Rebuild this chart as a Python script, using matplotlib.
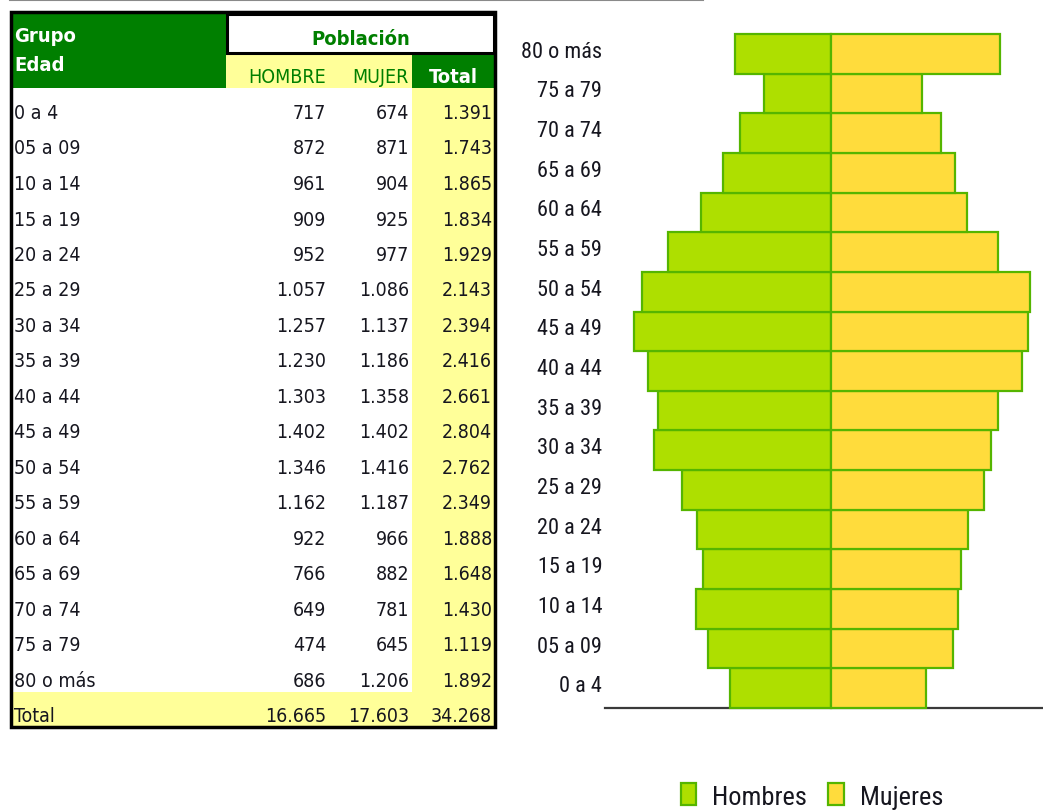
import matplotlib
matplotlib.use('Agg')
import matplotlib.pyplot as plt
from matplotlib.patches import Rectangle, Patch
from matplotlib import font_manager as fm
from matplotlib.transforms import ScaledTranslation

# ---------------- data ----------------
groups = ['0 a 4', '05 a 09', '10 a 14', '15 a 19', '20 a 24', '25 a 29',
          '30 a 34', '35 a 39', '40 a 44', '45 a 49', '50 a 54', '55 a 59',
          '60 a 64', '65 a 69', '70 a 74', '75 a 79', '80 o más']
hombres = [717, 872, 961, 909, 952, 1057, 1257, 1230, 1303, 1402, 1346, 1162,
           922, 766, 649, 474, 686]
mujeres = [674, 871, 904, 925, 977, 1086, 1137, 1186, 1358, 1402, 1416, 1187,
           966, 882, 781, 645, 1206]
totales = [1391, 1743, 1865, 1834, 1929, 2143, 2394, 2416, 2661, 2804, 2762,
           2349, 1888, 1648, 1430, 1119, 1892]
total_label = 'Total'
total_hombres = 16665
total_mujeres = 17603
total_general = 34268
header_group = ['Grupo', 'Edad']
header_pop = 'Población'
col_headers = ['HOMBRE', 'MUJER', 'Total']
legend_labels = ['Hombres', 'Mujeres']


def fmt(v):
    return f"{v:,}".replace(',', '.')


# ---------------- fonts ----------------
names = {f.name for f in fm.fontManager.ttflist}
files = [f.fname for f in fm.fontManager.ttflist]


def pick(cands, default='DejaVu Sans'):
    for c in cands:
        if c in names:
            return c
    return default


narrow = pick(['Liberation Sans Narrow', 'Roboto Condensed', 'Open Sans Condensed'],
              'Liberation Sans')
has_dv_cond = any('DejaVuSansCondensed' in f for f in files)
if has_dv_cond:
    tab_font = dict(family='DejaVu Sans', stretch='condensed')
else:
    tab_font = dict(family='Liberation Sans')

# ---------------- colours ----------------
GREEN = '#007F00'
YELLOW = '#FFFF99'
MALE = '#AEDF00'
FEMALE = '#FFDC3C'
EDGE = '#55B500'
TXT = '#16161f'

W, H = 1043, 812
fig = plt.figure(figsize=(W / 100, H / 100), dpi=100)

# ---------------- table (pixel axes) ----------------
axt = fig.add_axes([0, 0, 1, 1])
axt.set_xlim(0, W)
axt.set_ylim(H, 0)
axt.axis('off')

n = len(groups)
x_l, x_split, x_tot, x_r = 11, 226, 412, 495
y_top, y_sub, y_rows, row_h = 13, 55, 89, 35.5
y_end = y_rows + (n + 1) * row_h

axt.plot([10, 703], [0.8, 0.8], color='#8a8a8a', lw=1.5)

axt.add_patch(Rectangle((x_l, y_top), x_split - x_l, y_rows - y_top, fc=GREEN, ec='none'))
axt.add_patch(Rectangle((x_split, y_sub), x_tot - x_split, y_rows - y_sub, fc=YELLOW, ec='none'))
axt.add_patch(Rectangle((x_tot, y_sub), x_r - x_tot, y_rows - y_sub, fc=GREEN, ec='none'))
axt.add_patch(Rectangle((x_tot, y_rows), x_r - x_tot, n * row_h, fc=YELLOW, ec='none'))
axt.add_patch(Rectangle((x_l, y_rows + n * row_h), x_r - x_l, row_h, fc=YELLOW, ec='none'))
axt.add_patch(Rectangle((x_split + 1, y_top + 2), x_r - x_split - 2, y_sub - y_top - 3,
                        fc='white', ec='black', lw=2.2))
axt.add_patch(Rectangle((x_l, y_top), x_r - x_l, y_end - y_top, fill=False,
                        ec='black', lw=2.5, joinstyle='miter'))

fs = 14
fsh = 14.5
axt.text(14, 42, header_group[0], color='white', fontweight='bold', fontsize=fsh,
         va='baseline', ha='left', **tab_font)
axt.text(14, 71, header_group[1], color='white', fontweight='bold', fontsize=fsh,
         va='baseline', ha='left', **tab_font)
axt.text((x_split + x_r) / 2, 45, header_pop, color=GREEN, fontweight='bold',
         fontsize=fsh, va='baseline', ha='center', **tab_font)
col_x = [326, 409, 492]
axt.text(col_x[0], 83, col_headers[0], color=GREEN, fontsize=fs, va='baseline',
         ha='right', **tab_font)
axt.text(col_x[1], 83, col_headers[1], color=GREEN, fontsize=fs, va='baseline',
         ha='right', **tab_font)
axt.text((x_tot + x_r) / 2, 83, col_headers[2], color='white', fontweight='bold',
         fontsize=fsh, va='baseline', ha='center', **tab_font)

rows = list(zip(groups, hombres, mujeres, totales)) + \
    [(total_label, total_hombres, total_mujeres, total_general)]
for i, (g, h, m, t) in enumerate(rows):
    yb = y_rows + (i + 1) * row_h - 5.5
    axt.text(14, yb, g, color=TXT, fontsize=fs, va='baseline', ha='left', **tab_font)
    for xv, v in zip(col_x, (h, m, t)):
        axt.text(xv, yb, fmt(v), color=TXT, fontsize=fs, va='baseline', ha='right',
                 **tab_font)

# ---------------- pyramid ----------------
ax = fig.add_axes([605 / W, 1 - 709 / H, (1043 - 605) / W, (709 - 35) / H])
ypos = list(range(n))
ax.barh(ypos, [-v for v in hombres], height=1.0, color=MALE, edgecolor=EDGE,
        lw=1.6, zorder=3, clip_on=False)
ax.barh(ypos, mujeres, height=1.0, color=FEMALE, edgecolor=EDGE,
        lw=1.6, zorder=3, clip_on=False)
ax.set_xlim(-1608, 1509)
ax.set_ylim(-0.5, n - 0.5)
for s in ('top', 'right', 'left'):
    ax.spines[s].set_visible(False)
ax.spines['bottom'].set_color('#3a3a3a')
ax.spines['bottom'].set_linewidth(1.6)
ax.set_xticks([])
ax.set_yticks(ypos)
ax.set_yticklabels(groups, fontfamily=narrow, fontsize=16, color=TXT)
ax.tick_params(axis='y', length=0, pad=2)
off = ScaledTranslation(0, 5 / 100, fig.dpi_scale_trans)
for lbl in ax.get_yticklabels():
    lbl.set_transform(lbl.get_transform() + off)
ax.set_facecolor('none')

handles = [Patch(fc=MALE, ec=EDGE, lw=1.6), Patch(fc=FEMALE, ec=EDGE, lw=1.6)]
fig.legend(handles, legend_labels, loc='center', bbox_to_anchor=(812 / W, 1 - 797 / H),
           ncol=2, frameon=False, prop=dict(family=narrow, size=19),
           handlelength=0.6, handleheight=0.9, handletextpad=0.6, columnspacing=0.8,
           labelcolor=TXT)

fig.savefig('out.png', dpi=100)
